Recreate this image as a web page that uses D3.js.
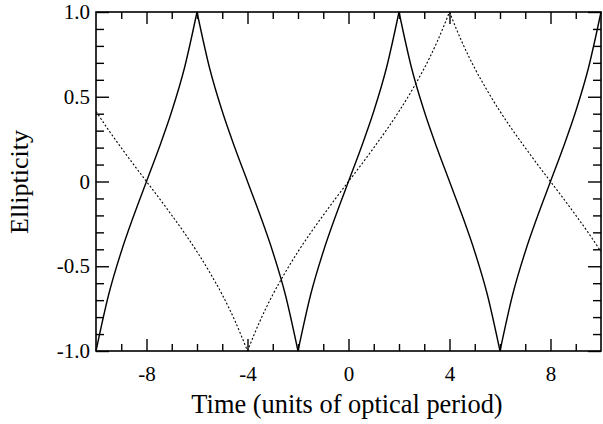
<!DOCTYPE html>
<html><head><meta charset="utf-8">
<script src="https://cdn.jsdelivr.net/npm/d3@7"></script>
<style>body{margin:0;background:#fff}svg{display:block}</style>
</head><body>
<script>
const times = [-10,-9.5,-9,-8.5,-8,-7.5,-7,-6.5,-6,-5.5,-5,-4.5,-4,-3.5,-3,-2.5,-2,-1.5,-1,-0.5,0,0.5,1,1.5,2,2.5,3,3.5,4,4.5,5,5.5,6,6.5,7,7.5,8,8.5,9,9.5,10];
const solidValues = [-1,-0.668,-0.414,-0.199,0,0.199,0.414,0.668,1,0.668,0.414,0.199,0,-0.199,-0.414,-0.668,-1,-0.668,-0.414,-0.199,0,0.199,0.414,0.668,1,0.668,0.414,0.199,0,-0.199,-0.414,-0.668,-1,-0.668,-0.414,-0.199,0,0.199,0.414,0.668,1];
const dashedValues = [0.414,0.303,0.199,0.098,0,-0.098,-0.199,-0.303,-0.414,-0.535,-0.668,-0.821,-1,-0.821,-0.668,-0.535,-0.414,-0.303,-0.199,-0.098,0,0.098,0.199,0.303,0.414,0.535,0.668,0.821,1,0.821,0.668,0.535,0.414,0.303,0.199,0.098,0,-0.098,-0.199,-0.303,-0.414];
const xMajorTicks = [-8,-4,0,4,8];
const xMinorTicks = [-9,-7,-6,-5,-3,-2,-1,1,2,3,5,6,7,9];
const xTickLabels = ["-8","-4","0","4","8"];
const yMajorTicks = [-1,-0.5,0,0.5,1];
const yTickLabels = ["-1.0","-0.5","0","0.5","1.0"];
const yMinorTicks = [-0.9,-0.8,-0.7,-0.6,-0.4,-0.3,-0.2,-0.1,0.1,0.2,0.3,0.4,0.6,0.7,0.8,0.9];
const xTitle = "Time (units of optical period)";
const yTitle = "Ellipticity";

const W=603,H=424, L=96, R=601, T=12, B=351;
const svg=d3.select("body").append("svg").attr("width",W).attr("height",H);
const x=d3.scaleLinear().domain([-10,10]).range([L,R]);
const y=d3.scaleLinear().domain([-1,1]).range([B,T]);
const font="'Liberation Serif','Times New Roman',serif";

function styleAxis(g){g.select(".domain").remove();g.selectAll("line").attr("stroke","#000").attr("stroke-width",1.4);
  g.selectAll("text").attr("font-family",font).attr("font-size",21).attr("fill","#000");}

// bottom
svg.append("g").attr("transform",`translate(0,${B})`).call(d3.axisBottom(x).tickValues(xMajorTicks).tickSize(-12).tickPadding(15).tickFormat((d,i)=>xTickLabels[i])).call(styleAxis);
svg.append("g").attr("transform",`translate(0,${B})`).call(d3.axisBottom(x).tickValues(xMinorTicks).tickSize(-7).tickFormat("")).call(styleAxis);
// top
svg.append("g").attr("transform",`translate(0,${T})`).call(d3.axisTop(x).tickValues(xMajorTicks).tickSize(-12).tickFormat("")).call(styleAxis);
svg.append("g").attr("transform",`translate(0,${T})`).call(d3.axisTop(x).tickValues(xMinorTicks).tickSize(-7).tickFormat("")).call(styleAxis);
// left
svg.append("g").attr("transform",`translate(${L},0)`).call(d3.axisLeft(y).tickValues(yMajorTicks).tickSize(-13).tickPadding(6).tickFormat((d,i)=>yTickLabels[i])).call(styleAxis);
svg.append("g").attr("transform",`translate(${L},0)`).call(d3.axisLeft(y).tickValues(yMinorTicks).tickSize(-8).tickFormat("")).call(styleAxis);
// right
svg.append("g").attr("transform",`translate(${R},0)`).call(d3.axisRight(y).tickValues(yMajorTicks).tickSize(-13).tickFormat("")).call(styleAxis);
svg.append("g").attr("transform",`translate(${R},0)`).call(d3.axisRight(y).tickValues(yMinorTicks).tickSize(-8).tickFormat("")).call(styleAxis);

// frame
svg.append("rect").attr("x",L).attr("y",T).attr("width",R-L).attr("height",B-T).attr("fill","none").attr("stroke","#000").attr("stroke-width",1.6);

// split into monotone segments at extremes
function segments(vals){
  const pts=times.map((t,i)=>({t,v:vals[i]}));
  const segs=[];let cur=[pts[0]];
  for(let i=1;i<pts.length;i++){cur.push(pts[i]);
    if(i<pts.length-1 && Math.abs(pts[i].v)===1){segs.push(cur);cur=[pts[i]];}}
  segs.push(cur);return segs;
}
const line=d3.line().x(d=>x(d.t)).y(d=>y(d.v)).curve(d3.curveMonotoneX);
const plot=svg.append("g");
segments(dashedValues).forEach(s=>plot.append("path").attr("d",line(s)).attr("fill","none").attr("stroke","#000").attr("stroke-width",1.1).attr("stroke-dasharray","2,2"));
segments(solidValues).forEach(s=>plot.append("path").attr("d",line(s)).attr("fill","none").attr("stroke","#000").attr("stroke-width",1.4));

svg.append("text").attr("x",347).attr("y",413).attr("text-anchor","middle").attr("font-family",font).attr("font-size",26.4).text(xTitle);
svg.append("text").attr("transform",`translate(28,182) rotate(-90)`).attr("text-anchor","middle").attr("font-family",font).attr("font-size",26).text(yTitle);
</script>
</body></html>
